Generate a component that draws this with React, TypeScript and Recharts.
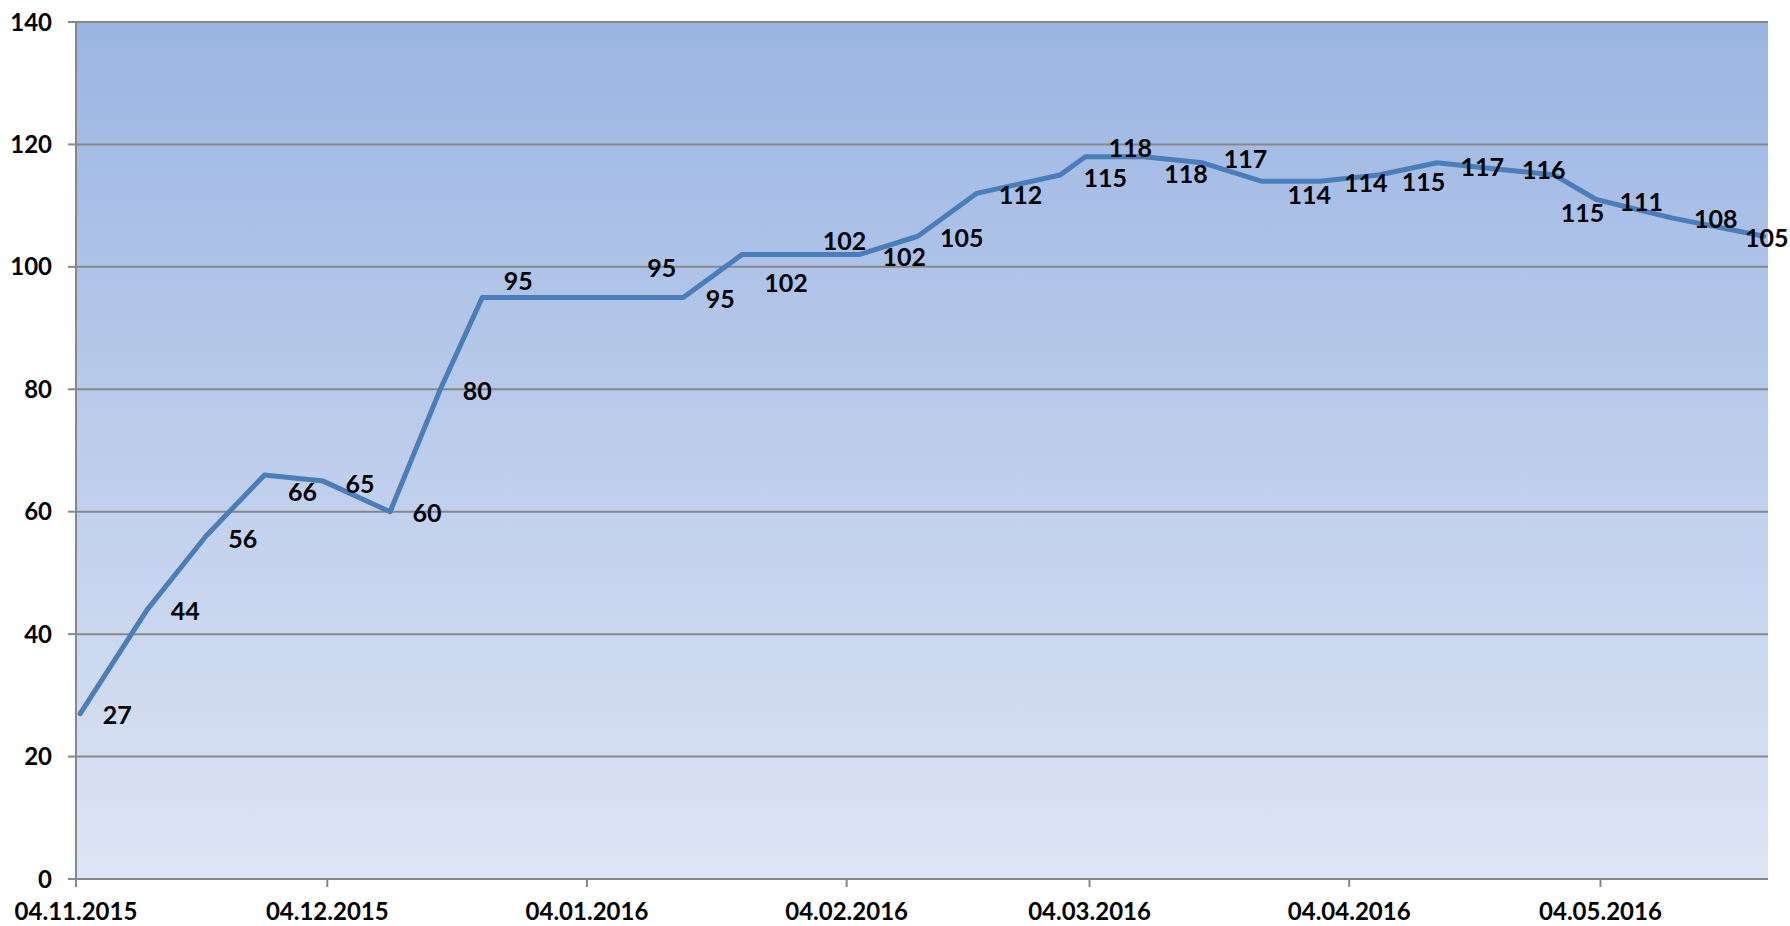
import { LineChart, Line, XAxis, YAxis, CartesianGrid, LabelList } from 'recharts'

const dates = [
  '04.11.2015', '12.11.2015', '19.11.2015', '26.11.2015', '03.12.2015', '11.12.2015', '17.12.2015',
  '22.12.2015', '08.01.2016', '15.01.2016', '22.01.2016', '29.01.2016', '05.02.2016', '12.02.2016',
  '19.02.2016', '29.02.2016', '03.03.2016', '10.03.2016', '17.03.2016', '24.03.2016', '31.03.2016',
  '07.04.2016', '14.04.2016', '21.04.2016', '28.04.2016', '03.05.2016', '12.05.2016', '23.05.2016',
]
const values = [
  27, 44, 56, 66, 65, 60, 80,
  95, 95, 95, 102, 102, 102, 105,
  112, 115, 118, 118, 117, 114, 114,
  115, 117, 116, 115, 111, 108, 105,
]
const xTickLabels = ['04.11.2015', '04.12.2015', '04.01.2016', '04.02.2016', '04.03.2016', '04.04.2016', '04.05.2016']
const yTicks = [0, 20, 40, 60, 80, 100, 120, 140]
const axisEnd = '24.05.2016'

// hand placed data labels in the original (dx, dy from the point)
const labelShift: [number, number][] = [
  [37, 1], [38, 1], [37, 3], [38, 17], [37, 3], [37, 1], [37, 2],
  [36, -16], [37, -29], [37, 2], [44, 28], [44, -14], [45, 2], [44, 2],
  [44, 2], [45, 3], [45, -9], [42, 17], [43, -4], [48, 14], [46, 2],
  [45, 7], [45, 4], [48, 1], [28, 38], [45, 2], [44, 1], [3, 2],
]

const GRID = '#878787'
const FONT = 'Lato'

const toUtc = (s: string) => {
  const [d, m, y] = s.split('.').map(Number)
  return Date.UTC(y, m - 1, d)
}
const start = toUtc(xTickLabels[0])
const dayOf = (s: string) => Math.round((toUtc(s) - start) / 86400000)

// date axis: every date sits in the middle of its day slot, like Excel
const data = dates.map((d, i) => ({ day: dayOf(d) + 0.5, value: values[i] }))
const xTicks = xTickLabels.map(dayOf)

function PointLabel(props: any) {
  const { x, y, value, index } = props
  const [dx, dy] = labelShift[index] ?? [44, 2]
  return (
    <text
      x={Number(x) + dx}
      y={Number(y) + dy + 9}
      textAnchor="middle"
      fontFamily={FONT}
      fontWeight={700}
      fontSize={25}
      fill="#000"
    >
      {value}
    </text>
  )
}

export default function App() {
  const tickStyle = { fill: '#000', fontSize: 24, fontWeight: 700, fontFamily: FONT }
  return (
    <div style={{ position: 'absolute', left: 0, top: 0, background: '#fff' }}>
      <LineChart width={1790} height={926} data={data} margin={{ top: 22, right: 22, bottom: 0, left: 0 }}>
        <defs>
          <linearGradient id="plotBg" x1="0" y1="0" x2="0" y2="1">
            <stop offset="0%" stopColor="#9bb5e3" />
            <stop offset="100%" stopColor="#dee5f4" />
          </linearGradient>
        </defs>
        <CartesianGrid vertical={false} fill="url(#plotBg)" fillOpacity={1} stroke={GRID} strokeWidth={2} />
        <XAxis
          type="number"
          dataKey="day"
          domain={[0, dayOf(axisEnd)]}
          ticks={xTicks}
          interval={0}
          allowDataOverflow
          tickFormatter={(v: number) => xTickLabels[xTicks.indexOf(v)] ?? ''}
          height={47}
          axisLine={{ stroke: GRID, strokeWidth: 2 }}
          tickLine={{ stroke: GRID, strokeWidth: 2 }}
          tickSize={8}
          tickMargin={16}
          tick={tickStyle}
        />
        <YAxis
          domain={[0, 140]}
          ticks={yTicks}
          interval={0}
          width={76}
          axisLine={{ stroke: GRID, strokeWidth: 2 }}
          tickLine={{ stroke: GRID, strokeWidth: 2 }}
          tickSize={8}
          tickMargin={16}
          tick={tickStyle}
        />
        <Line
          type="linear"
          dataKey="value"
          stroke="#4a7ebb"
          strokeWidth={5}
          strokeLinejoin="round"
          strokeLinecap="round"
          dot={false}
          isAnimationActive={false}
        >
          <LabelList dataKey="value" content={PointLabel} />
        </Line>
      </LineChart>
    </div>
  )
}
